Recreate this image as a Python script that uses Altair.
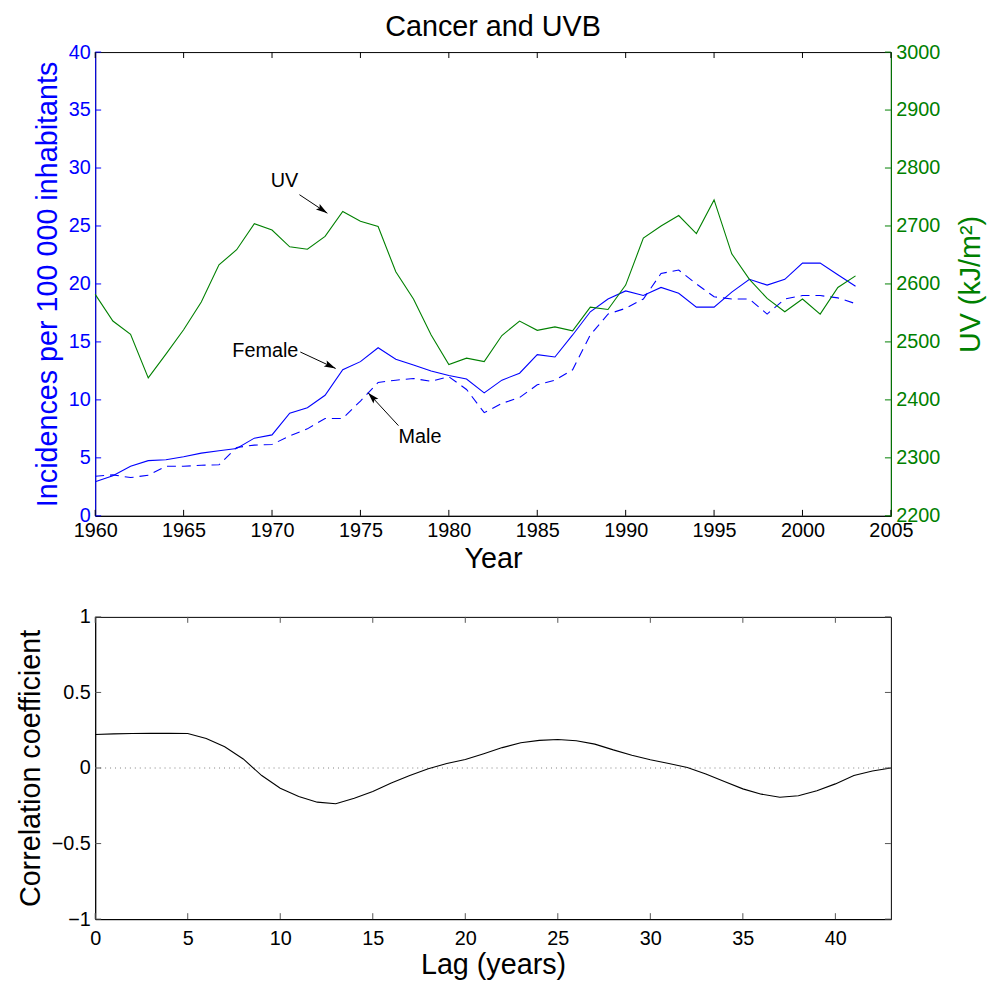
import altair as alt
import pandas as pd

# data
YEARS = list(range(1960, 2004))
FEMALE = [2.93, 3.45, 4.27, 4.76, 4.84, 5.1, 5.41, 5.61, 5.81, 6.7,
          6.98, 8.86, 9.32, 10.4, 12.6, 13.3, 14.5, 13.5, 13.0, 12.5,
          12.1, 11.8, 10.6, 11.7, 12.3, 13.9, 13.7, 15.6, 17.6, 18.7,
          19.4, 19.0, 19.7, 19.2, 18.0, 18.0, 19.3, 20.4, 19.9, 20.4,
          21.8, 21.8, 20.8, 19.8]
MALE = [3.42, 3.53, 3.3, 3.5, 4.27, 4.27, 4.36, 4.4, 5.9, 6.1,
        6.15, 6.9, 7.5, 8.4, 8.4, 9.9, 11.5, 11.7, 11.85, 11.6,
        12.0, 10.9, 8.9, 9.7, 10.2, 11.3, 11.7, 12.6, 15.6, 17.4,
        17.9, 18.7, 20.9, 21.2, 20.0, 18.9, 18.7, 18.7, 17.4, 18.7,
        19.0, 19.0, 18.8, 18.3]
UV = [2582, 2536, 2513, 2438, 2479, 2521, 2569, 2633, 2659, 2704,
      2693, 2664, 2660, 2682, 2725, 2708, 2699, 2621, 2574, 2512,
      2461, 2472, 2466, 2511, 2536, 2520, 2526, 2519, 2560, 2556,
      2598, 2679, 2700, 2718, 2687, 2745, 2652, 2608, 2575, 2552,
      2574, 2548, 2594, 2614]

LAGS = list(range(0, 44))
CORR = [0.222, 0.226, 0.228, 0.229, 0.23, 0.228, 0.195, 0.14, 0.06, -0.05,
        -0.134, -0.188, -0.226, -0.236, -0.2, -0.155, -0.1, -0.05, -0.005, 0.03,
        0.056, 0.095, 0.135, 0.167, 0.183, 0.189, 0.18, 0.158, 0.12, 0.085,
        0.055, 0.03, 0.004, -0.04, -0.09, -0.138, -0.173, -0.193, -0.184, -0.15,
        -0.105, -0.05, -0.02, 0.0]

YEAR_TICKS = [1960, 1965, 1970, 1975, 1980, 1985, 1990, 1995, 2000, 2005]
INC_TICKS = [0, 5, 10, 15, 20, 25, 30, 35, 40]
UV_TICKS = [2200, 2300, 2400, 2500, 2600, 2700, 2800, 2900, 3000]
LAG_TICKS = [0, 5, 10, 15, 20, 25, 30, 35, 40]
CORR_TICKS = [-1, -0.5, 0, 0.5, 1]

# annotations: label position, arrow start, arrow tip, head angle
SEX_LABELS = ["Female", "Male"]
SEX_LABEL_X = [1969.62, 1978.37]
SEX_LABEL_Y = [14.19, 6.78]
SEX_ARROW_X = [1971.6, 1977.15]
SEX_ARROW_Y = [14.13, 7.78]
SEX_TIP_X = [1973.6, 1975.43]
SEX_TIP_Y = [12.71, 10.62]
SEX_ANGLE = [115, 317]

UV_LABEL = ["UV"]
UV_LABEL_X = [1970.7]
UV_LABEL_Y = [2777]
UV_ARROW_X = [1971.55]
UV_ARROW_Y = [2754]
UV_TIP_X = [1973.13]
UV_TIP_Y = [2722]
UV_ANGLE = [124]

W = 803
H_TOP = 468
H_BOT = 305
TICK = 6
BLUE = "#0000ff"
GREEN = "#008000"
FONT = "Liberation Sans"
HEAD = "M0,0 L0.55,1.9 L0,1.55 L-0.55,1.9 Z"

# ---------- top panel ----------
inc = pd.concat([
    pd.DataFrame({"year": YEARS, "value": FEMALE, "sex": "Female"}),
    pd.DataFrame({"year": YEARS, "value": MALE, "sex": "Male"}),
])
uv = pd.DataFrame({"year": YEARS, "uv": UV})
sex_notes = pd.DataFrame({"label": SEX_LABELS, "year": SEX_LABEL_X, "value": SEX_LABEL_Y,
                          "x0": SEX_ARROW_X, "y0": SEX_ARROW_Y,
                          "x1": SEX_TIP_X, "y1": SEX_TIP_Y, "angle": SEX_ANGLE})
uv_notes = pd.DataFrame({"label": UV_LABEL, "year": UV_LABEL_X, "uv": UV_LABEL_Y,
                         "x0": UV_ARROW_X, "y0": UV_ARROW_Y,
                         "x1": UV_TIP_X, "y1": UV_TIP_Y, "angle": UV_ANGLE})

year_scale = alt.Scale(domain=[1960, 2005], nice=False, zero=False)
year_axis = alt.Axis(values=YEAR_TICKS, format="d", title="Year", titlePadding=4, labelFlush=False)


def xyear(field):
    return alt.X(field, type="quantitative", scale=year_scale, axis=year_axis)


def yinc(field):
    return alt.Y(field, type="quantitative", scale=alt.Scale(domain=[0, 40], nice=False),
                 axis=alt.Axis(values=INC_TICKS, title="Incidences per 100 000 inhabitants",
                               labelColor=BLUE, titleColor=BLUE, domainColor=BLUE, titlePadding=6))


def yuv(field):
    return alt.Y(field, type="quantitative", scale=alt.Scale(domain=[2200, 3000], nice=False, zero=False),
                 axis=alt.Axis(values=UV_TICKS, orient="right", format="d", title="UV (kJ/m²)",
                               labelColor=GREEN, titleColor=GREEN, domainColor=GREEN,
                               titleAngle=270, titleBaseline="top", titlePadding=17))


female = alt.Chart(inc).mark_line(color=BLUE, strokeWidth=1.1).encode(
    x=xyear("year"), y=yinc("value")
).transform_filter(alt.datum.sex == "Female")
male = alt.Chart(inc).mark_line(color=BLUE, strokeWidth=1.1, strokeDash=[9, 6]).encode(
    x=xyear("year"), y=yinc("value")
).transform_filter(alt.datum.sex == "Male")
sex_text = alt.Chart(sex_notes).mark_text(font=FONT, fontSize=20, color="black").encode(
    x=xyear("year"), y=yinc("value"), text="label:N")
sex_shaft = alt.Chart(sex_notes).mark_rule(color="black", strokeWidth=1).encode(
    x=xyear("x0"), y=yinc("y0"), x2="x1", y2="y1")
sex_head = alt.Chart(sex_notes).mark_point(shape=HEAD, filled=True, color="black", size=150, opacity=1).encode(
    x=xyear("x1"), y=yinc("y1"), angle=alt.Angle("angle:Q", scale=None))

inc_ticks = pd.DataFrame({"value": INC_TICKS})
year_ticks = pd.DataFrame({"year": YEAR_TICKS})
left_ticks = alt.Chart(inc_ticks).mark_rule(color=BLUE).encode(
    y=yinc("value"), x=alt.value(0), x2=alt.value(TICK))
bottom_ticks = alt.Chart(year_ticks).mark_rule(color="black").encode(
    x=xyear("year"), y=alt.value(H_TOP), y2=alt.value(H_TOP - TICK))
top_ticks = alt.Chart(year_ticks).mark_rule(color="black").encode(
    x=xyear("year"), y=alt.value(0), y2=alt.value(TICK))

left = alt.layer(female, male, sex_shaft, sex_head, sex_text, left_ticks, bottom_ticks, top_ticks)

uv_line = alt.Chart(uv).mark_line(color=GREEN, strokeWidth=1.1).encode(
    x=xyear("year"), y=yuv("uv"))
uv_text = alt.Chart(uv_notes).mark_text(font=FONT, fontSize=20, color="black").encode(
    x=xyear("year"), y=yuv("uv"), text="label:N")
uv_shaft = alt.Chart(uv_notes).mark_rule(color="black", strokeWidth=1).encode(
    x=xyear("x0"), y=yuv("y0"), x2="x1", y2="y1")
uv_head = alt.Chart(uv_notes).mark_point(shape=HEAD, filled=True, color="black", size=150, opacity=1).encode(
    x=xyear("x1"), y=yuv("y1"), angle=alt.Angle("angle:Q", scale=None))
uv_ticks = pd.DataFrame({"uv": UV_TICKS})
right_ticks = alt.Chart(uv_ticks).mark_rule(color=GREEN).encode(
    y=yuv("uv"), x=alt.value(W), x2=alt.value(W - TICK))

right = alt.layer(uv_line, uv_shaft, uv_head, uv_text, right_ticks)

top = alt.layer(left, right).resolve_scale(y="independent").properties(
    width=W, height=H_TOP,
    title=alt.Title("Cancer and UVB", font=FONT, fontSize=29, fontWeight="normal",
                    color="black", anchor="middle", offset=0),
)

# ---------- bottom panel ----------
corr = pd.DataFrame({"lag": LAGS, "corr": CORR})
lag_scale = alt.Scale(domain=[0, 43], nice=False)
corr_scale = alt.Scale(domain=[-1, 1], nice=False)


def xlag(field):
    return alt.X(field, type="quantitative", scale=lag_scale,
                 axis=alt.Axis(values=LAG_TICKS, title="Lag (years)", titlePadding=2,
                               labelPadding=10, labelFlush=False))


def ycorr(field):
    return alt.Y(field, type="quantitative", scale=corr_scale,
                 axis=alt.Axis(values=CORR_TICKS, format="~g", title="Correlation coefficient",
                               titlePadding=6, labelFlush=False))


zero_line = alt.Chart(pd.DataFrame({"corr": [0]})).mark_rule(
    color="#808080", strokeDash=[1, 4], strokeWidth=1
).encode(y=ycorr("corr"), x=alt.value(0), x2=alt.value(W))
corr_line = alt.Chart(corr).mark_line(color="black", strokeWidth=1.1).encode(
    x=xlag("lag"), y=ycorr("corr"))
lag_ticks = pd.DataFrame({"lag": LAG_TICKS})
corr_ticks = pd.DataFrame({"corr": CORR_TICKS})
b_bottom = alt.Chart(lag_ticks).mark_rule(color="#555555").encode(
    x=xlag("lag"), y=alt.value(H_BOT), y2=alt.value(H_BOT - TICK))
b_top = alt.Chart(lag_ticks).mark_rule(color="#555555").encode(
    x=xlag("lag"), y=alt.value(0), y2=alt.value(TICK))
b_left = alt.Chart(corr_ticks).mark_rule(color="#555555").encode(
    y=ycorr("corr"), x=alt.value(0), x2=alt.value(TICK))
b_right = alt.Chart(corr_ticks).mark_rule(color="#555555").encode(
    y=ycorr("corr"), x=alt.value(W), x2=alt.value(W - TICK))

bottom = alt.layer(zero_line, corr_line, b_bottom, b_top, b_left, b_right).properties(
    width=W, height=H_BOT)

chart = alt.vconcat(top, bottom, spacing=32).properties(
    padding={"left": 8, "right": 2, "top": 0, "bottom": 0}
).configure_axis(
    ticks=False, tickSize=0, grid=False, labelPadding=5, labelFlush=False,
    labelFont=FONT, titleFont=FONT, labelFontSize=20, titleFontSize=29,
    titleFontWeight="normal", labelColor="black", titleColor="black",
    domainColor="black", domainWidth=1,
).configure_view(
    stroke="black", strokeWidth=1
)

chart.save("out.html", embed_options={"renderer": "svg", "actions": False})
